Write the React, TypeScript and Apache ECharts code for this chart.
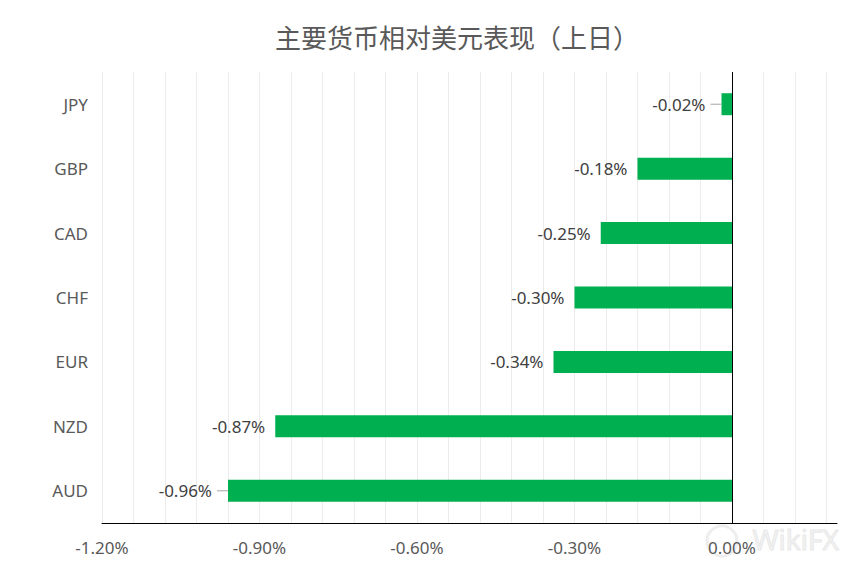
import React, { useEffect, useRef } from "react";
import * as echarts from "echarts";

const titleText = "主要货币相对美元表现（上日）";
const categories = ["JPY", "GBP", "CAD", "CHF", "EUR", "NZD", "AUD"];
const values = [-0.02, -0.18, -0.25, -0.3, -0.34, -0.87, -0.96];
const leaderLine = [true, false, false, false, false, false, true];
const axisMin = -1.2;
const axisMax = 0.2;
const gridStep = 0.06;
const labelStep = 0.3;

const FONT = "'Noto Sans', 'Noto Sans CJK SC', sans-serif";

export default function App() {
  const ref = useRef<HTMLDivElement>(null);
  useEffect(() => {
    if (!ref.current) return;
    const chart = echarts.init(ref.current, undefined, { renderer: "svg" });
    const fmt = (v: number) => (Math.round(v * 100) / 100).toFixed(2) + "%";
    const data = values.map((v, i) => ({
      value: v,
      label: leaderLine[i]
        ? { distance: 0, formatter: `{v|${fmt(v)}}{s|}{g|}` }
        : { distance: 10, formatter: `{v|${fmt(v)}}` },
    }));
    chart.setOption({
      animation: false,
      backgroundColor: "#ffffff",
      title: {
        text: titleText,
        left: 452,
        top: 18,
        textAlign: "center",
        textStyle: {
          fontFamily: "'Noto Sans CJK SC', sans-serif",
          fontSize: 26,
          fontWeight: "normal",
          color: "#595959",
        },
      },
      grid: { left: 102, right: 29, top: 72, bottom: 50, containLabel: false },
      xAxis: {
        type: "value",
        min: axisMin,
        max: axisMax,
        interval: gridStep,
        axisLine: { show: true, lineStyle: { color: "#000000", width: 1 } },
        axisTick: { show: false },
        splitLine: {
          show: true,
          showMaxLine: false,
          lineStyle: { color: "#ececec", width: 1 },
        },
        axisLabel: {
          color: "#595959",
          fontSize: 17,
          fontFamily: FONT,
          margin: 16,
          showMaxLabel: false,
          formatter: (v: number) => {
            const k = Math.round(v * 100);
            const s = Math.round(labelStep * 100);
            if (k % s === 0 && k <= 0) return (k / 100).toFixed(2) + "%";
            return "";
          },
        },
      },
      yAxis: {
        type: "category",
        data: categories,
        inverse: true,
        axisLine: { show: false },
        axisTick: { show: false },
        splitLine: { show: false },
        axisLabel: {
          color: "#595959",
          fontSize: 17,
          fontFamily: FONT,
          margin: 14,
        },
      },
      series: [
        {
          type: "bar",
          data,
          barWidth: 22,
          itemStyle: { color: "#00B050" },
          label: {
            show: true,
            position: "left",
            color: "#404040",
            fontSize: 17,
            fontFamily: FONT,
            rich: {
              v: { color: "#404040", fontSize: 17, fontFamily: FONT },
              s: { width: 5 },
              g: { width: 11, height: 1, backgroundColor: "#a6a6a6" },
            },
          },
          markLine: {
            silent: true,
            symbol: ["none", "none"],
            label: { show: false },
            lineStyle: { color: "#000000", width: 1, type: "solid" },
            emphasis: { disabled: true },
            data: [{ xAxis: 0 }],
          },
        },
      ],
      graphic: [
        {
          type: "text",
          left: 752,
          top: 524,
          silent: true,
          style: {
            text: "WikiFX",
            fontSize: 28,
            fontFamily: "'Noto Sans', sans-serif",
            fill: "rgba(235,235,235,0.6)",
            stroke: "#e8e8e8",
            lineWidth: 1,
          },
        },
        {
          type: "circle",
          shape: { cx: 722, cy: 541, r: 15 },
          silent: true,
          style: { fill: "none", stroke: "#eeeeee", lineWidth: 3 },
        },
      ],
    });
    return () => chart.dispose();
  }, []);
  return (
    <div
      ref={ref}
      style={{ position: "fixed", left: 0, top: 0, width: 866, height: 573 }}
    />
  );
}
